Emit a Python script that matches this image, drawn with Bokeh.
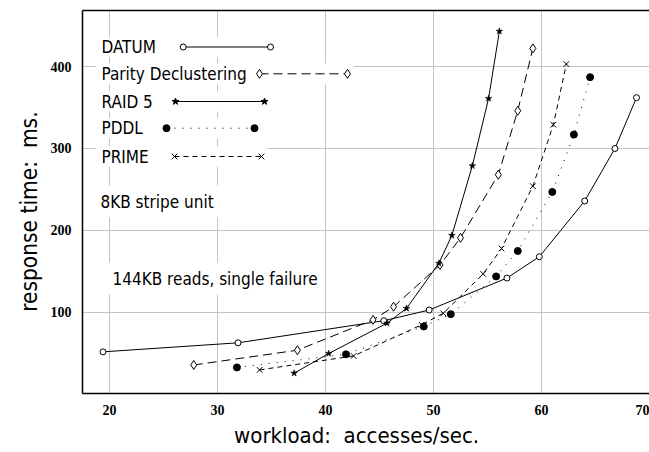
from bokeh.plotting import figure
from bokeh.models import Range1d, LinearAxis, FixedTicker
from bokeh.core.properties import value
from bokeh.embed import file_html
from bokeh.resources import INLINE

# ---- data ----
datum_x = [19.4, 31.9, 45.4, 49.6, 56.8, 59.8, 64.0, 66.8, 68.8]
datum_y = [52, 63, 90, 103, 142, 168, 236, 300, 362]

parity_x = [27.8, 37.4, 44.4, 46.3, 50.6, 52.5, 56.0, 57.8, 59.2]
parity_y = [36, 54, 91, 107, 158, 191, 268, 346, 422]

raid5_x = [37.1, 40.3, 45.7, 47.5, 50.5, 51.7, 53.6, 55.1, 56.1]
raid5_y = [26, 50, 87, 105, 160, 194, 279, 361, 443]

pddl_x = [31.8, 41.9, 49.1, 51.6, 55.8, 57.8, 61.0, 63.0, 64.5]
pddl_y = [33, 49, 83, 98, 144, 175, 247, 317, 387]

prime_x = [33.9, 42.6, 48.9, 50.9, 54.6, 56.3, 59.2, 61.1, 62.3]
prime_y = [30, 47, 85, 99, 147, 178, 254, 329, 403]

x_ticks = [20, 30, 40, 50, 60, 70]
y_ticks = [100, 200, 300, 400]

series_names = ["DATUM", "Parity Declustering", "RAID 5", "PDDL", "PRIME"]
note1 = "8KB stripe unit"
note2 = "144KB reads, single failure"
NB = "\u00a0"
x_label = "workload:" + NB + " accesses/sec." + NB * 3
y_label = "response time:" + NB + " ms." + NB * 3

# ---- layout constants ----
W, H = 649, 452
LEFT, RIGHT, TOP, BOTTOM = 82, 0, 10, 59
FW, FH = W - LEFT - RIGHT, H - TOP - BOTTOM

SANS = "DejaVu Sans Condensed, Liberation Sans"
SERIF = "Liberation Serif"

p = figure(width=W, height=H, output_backend="svg", toolbar_location=None,
           x_range=Range1d(17.5, 70.0), y_range=Range1d(1.2, 468.3),
           min_border_left=LEFT, min_border_right=RIGHT,
           min_border_top=TOP, min_border_bottom=BOTTOM)
p.extra_x_ranges = {"px": Range1d(0, FW)}
p.extra_y_ranges = {"py": Range1d(FH, 0)}

p.outline_line_color = None
p.background_fill_color = "white"
p.border_fill_color = "white"

for ax, ticks in ((p.xaxis[0], x_ticks), (p.yaxis[0], y_ticks)):
    ax.ticker = FixedTicker(ticks=ticks)
    ax.axis_line_color = "black"
    ax.axis_line_width = 1.5
    ax.major_tick_in = 0
    ax.major_tick_out = 0
    ax.minor_tick_in = 0
    ax.minor_tick_out = 0
    ax.major_label_text_font = SERIF
    ax.major_label_text_font_style = "bold"
    ax.major_label_text_font_size = "14px"
    ax.major_label_text_color = "black"
    ax.axis_label_text_font = SANS
    ax.axis_label_text_font_style = "normal"
    ax.axis_label_text_color = "black"

p.xaxis.major_label_standoff = 11
p.yaxis.major_label_standoff = 11
p.xaxis.axis_label = x_label
p.yaxis.axis_label = y_label
p.xaxis.axis_label_text_font_size = "22px"
p.yaxis.axis_label_text_font_size = "22.5px"
p.xaxis.axis_label_standoff = 5
p.yaxis.axis_label_standoff = 6

top_axis = LinearAxis(ticker=FixedTicker(ticks=[]), axis_line_color="black",
                      axis_line_width=1.5, major_tick_in=0, major_tick_out=0,
                      minor_tick_in=0, minor_tick_out=0,
                      major_label_text_font_size="0px", major_label_standoff=0)
p.add_layout(top_axis, "above")

p.xgrid.ticker = FixedTicker(ticks=x_ticks)
p.ygrid.ticker = FixedTicker(ticks=y_ticks)
p.grid.grid_line_color = "#c4c4c4"
p.grid.grid_line_width = 1

# ---- data series ----
p.line(datum_x, datum_y, line_color="black", line_width=1)
p.scatter(datum_x, datum_y, marker="circle", size=6, line_color="black",
          fill_color="white", line_width=1)

p.line(parity_x, parity_y, line_color="black", line_width=1, line_dash="9 5")
p.scatter(parity_x, parity_y, marker="diamond", size=9, line_color="black",
          fill_color="white", line_width=1)

p.line(raid5_x, raid5_y, line_color="black", line_width=1)
p.scatter(raid5_x, raid5_y, marker="star", size=7, line_color="black",
          fill_color="black", line_width=0.5)

p.line(pddl_x, pddl_y, line_color="black", line_width=1, line_dash="1 7")
p.scatter(pddl_x, pddl_y, marker="circle", size=7, line_color="black",
          fill_color="black")

p.line(prime_x, prime_y, line_color="black", line_width=1, line_dash="5 4")
p.scatter(prime_x, prime_y, marker="x", size=8, line_color="black", line_width=1)

# ---- legend (pixel coordinates inside the frame, y measured from top) ----
rows = [
    # name, text y, sample x0, sample x1, marker, size, fill, dash
    (series_names[0], 36.5, 100.7, 188, "circle", 6, "white", "solid"),
    (series_names[1], 63.3, 177, 265, "diamond", 9, "white", "9 5"),
    (series_names[2], 91, 93, 182, "star", 7, "black", "solid"),
    (series_names[3], 117.7, 84, 172, "circle", 7, "black", "1 7"),
    (series_names[4], 146, 92, 179, "x", 8, "black", "5 4"),
]
for name, ty, x0, x1, mk, sz, fc, dash in rows:
    p.quad(left=[13], right=[x1 + 6], top=[ty - 10], bottom=[ty + 10],
           fill_color="white", line_color=None,
           x_range_name="px", y_range_name="py")
    p.text(x=[19], y=[ty], text=[name], text_font=value(SANS),
           text_font_size="17px", text_baseline="middle", text_align="left",
           text_color="black", x_range_name="px", y_range_name="py")
    p.line([x0, x1], [ty, ty], line_color="black", line_width=1, line_dash=dash,
           x_range_name="px", y_range_name="py")
    p.scatter([x0, x1], [ty, ty], marker=mk, size=sz, line_color="black",
              fill_color=fc, line_width=1, x_range_name="px", y_range_name="py")

for txt, tx, ty in ((note1, 12, 191), (note2, 24, 268)):
    p.text(x=[tx], y=[ty], text=[txt], text_font=value(SANS),
           text_font_size="17px", text_baseline="middle", text_align="left",
           text_color="black", background_fill_color="white", padding=6,
           x_range_name="px", y_range_name="py")

open("out.html", "w").write(file_html(p, INLINE))
